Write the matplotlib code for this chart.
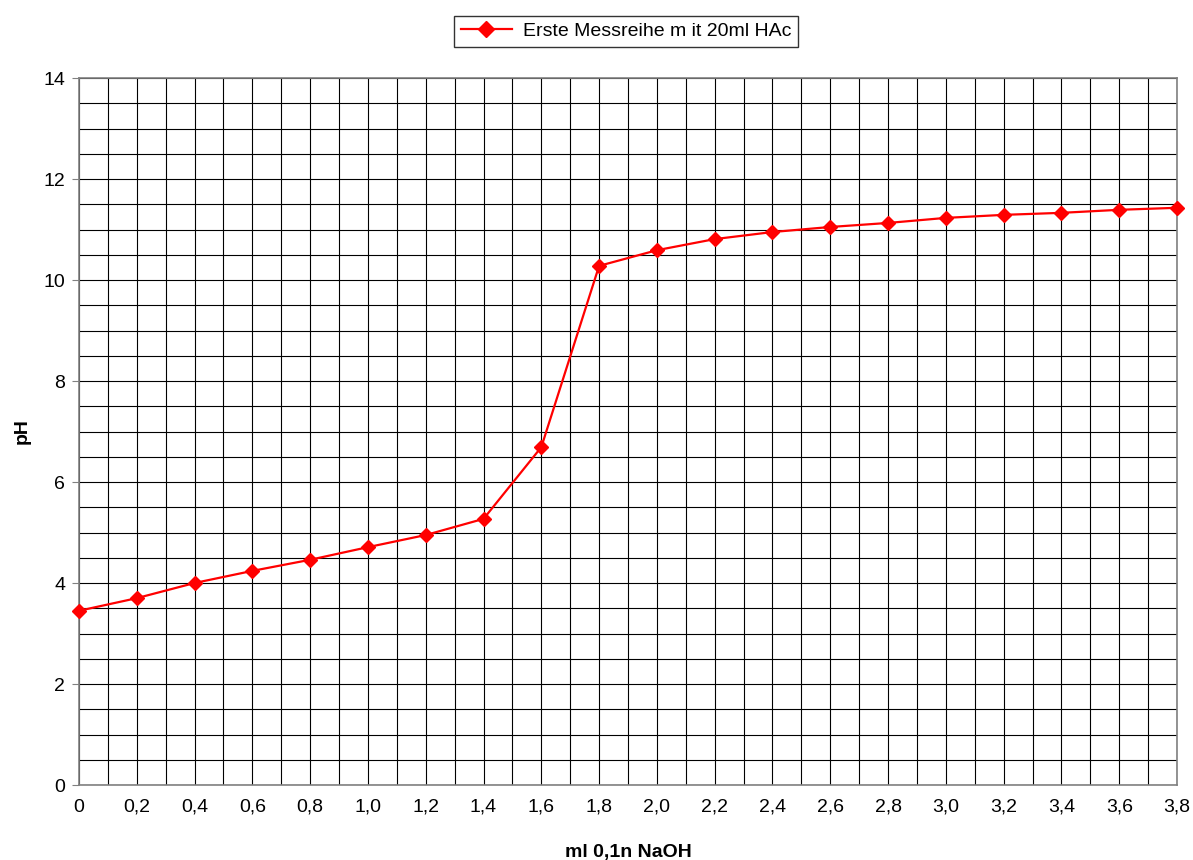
import matplotlib.pyplot as plt
import numpy as np

plt.rcParams['font.family'] = ['Liberation Sans', 'DejaVu Sans']

# titration data: ml NaOH added vs measured pH
ml_naoh = [0.0, 0.2, 0.4, 0.6, 0.8, 1.0, 1.2, 1.4, 1.6, 1.8,
           2.0, 2.2, 2.4, 2.6, 2.8, 3.0, 3.2, 3.4, 3.6, 3.8]
ph = [3.45, 3.70, 4.00, 4.24, 4.46, 4.71, 4.95, 5.27, 6.69, 10.28,
      10.59, 10.81, 10.95, 11.05, 11.13, 11.23, 11.29, 11.33, 11.39, 11.43]
x_labels = ['0', '0,2', '0,4', '0,6', '0,8', '1,0', '1,2', '1,4', '1,6', '1,8',
            '2,0', '2,2', '2,4', '2,6', '2,8', '3,0', '3,2', '3,4', '3,6', '3,8']
y_ticks = [0, 2, 4, 6, 8, 10, 12, 14]

fig = plt.figure(figsize=(11.93, 8.6), dpi=100)
ax = fig.add_axes([0.0662, 0.0872, 0.9204, 0.8221])

ax.plot(ml_naoh, ph, color='#ff0000', lw=1.6, marker='D', markersize=7,
        label='Erste Messreihe m it 20ml HAc', zorder=3, clip_on=False)

ax.set_xlim(0, 3.8)
ax.set_ylim(0, 14)
ax.set_xticks(ml_naoh)
ax.set_xticklabels(x_labels, fontsize=14)
ax.set_xticks(np.arange(0, 3.81, 0.1), minor=True)
ax.set_yticks(y_ticks)
ax.set_yticklabels([str(v) for v in y_ticks], fontsize=14)
ax.set_yticks(np.arange(0, 14.01, 0.5), minor=True)
ax.tick_params(axis='x', which='both', length=0, pad=10)
ax.tick_params(axis='y', which='major', length=5, color='#808080', pad=5)
ax.tick_params(axis='y', which='minor', length=0)

ax.grid(True, which='both', color='black', lw=0.8)
ax.set_axisbelow(True)
for s in ax.spines.values():
    s.set_color('#808080')
    s.set_linewidth(1.2)

ax.set_xlabel('ml 0,1n NaOH', fontsize=14, fontweight='bold', labelpad=20)
ax.set_ylabel('pH', fontsize=14, fontweight='bold', labelpad=9)

leg = fig.legend(loc='upper center', bbox_to_anchor=(0.525, 0.993), fontsize=14,
                 frameon=True, fancybox=False, edgecolor='black', handlelength=2.6,
                 handletextpad=0.6, borderpad=0.35, markerscale=1.2)
leg.get_frame().set_linewidth(1.0)

fig.savefig('out.png', dpi=100)
